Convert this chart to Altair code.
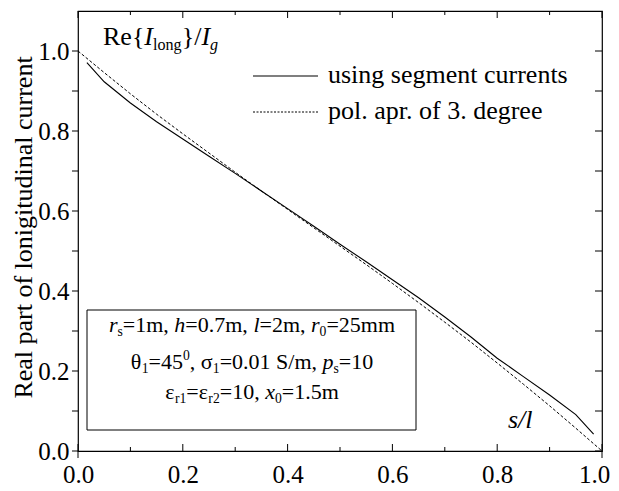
import altair as alt
import pandas as pd

# ---------------- data ----------------
s_seg = [0.017, 0.05, 0.1, 0.15, 0.2, 0.25, 0.3, 0.35, 0.4, 0.45, 0.5,
         0.55, 0.6, 0.65, 0.7, 0.75, 0.8, 0.85, 0.9, 0.95, 0.984]
re_seg = [0.971, 0.923, 0.870, 0.823, 0.780, 0.737, 0.694, 0.650, 0.606, 0.562, 0.517,
          0.473, 0.428, 0.383, 0.335, 0.285, 0.232, 0.186, 0.140, 0.091, 0.042]

s_pol = [0.0, 0.05, 0.1, 0.15, 0.2, 0.25, 0.3, 0.35, 0.4, 0.45, 0.5,
         0.55, 0.6, 0.65, 0.7, 0.75, 0.8, 0.85, 0.9, 0.95, 1.0]
re_pol = [1.0, 0.946, 0.893, 0.842, 0.793, 0.745, 0.697, 0.650, 0.604, 0.558, 0.512,
          0.466, 0.419, 0.371, 0.322, 0.272, 0.220, 0.167, 0.113, 0.057, 0.0]

x_major = [0.0, 0.2, 0.4, 0.6, 0.8, 1.0]
x_minor = [0.1, 0.3, 0.5, 0.7, 0.9]
y_major = [0.0, 0.2, 0.4, 0.6, 0.8, 1.0]
y_minor = [0.1, 0.3, 0.5, 0.7, 0.9]

legend_labels = ["using segment currents", "pol. apr. of 3. degree"]
y_title = "Real part of lonigitudinal current"

FONT = "Liberation Serif"
W, H = 524, 440
YMAX = 1.1
XS = alt.Scale(domain=[0, 1], nice=False, zero=False)
YS = alt.Scale(domain=[0, YMAX], nice=False, zero=False)


def to_s(px):
    return px / W


def to_v(py):
    return YMAX * (1 - py / H)


# ---------------- rich-text helper (Times metrics) ----------------
NW = {' ': .25, '.': .25, ',': .25, '=': .564, '{': .48, '}': .48, '/': .278,
      'R': .667, 'S': .556, 'e': .444, 'm': .778, 'l': .278, 'o': .5, 'n': .5,
      'g': .5, 'r': .333, 'h': .5, 'p': .5, 's': .389, 'x': .5, 'I': .333,
      'θ': .5, 'σ': .55, 'ε': .44}
IW = {'I': .333, 'g': .5, 'r': .389, 'h': .5, 'l': .278, 'p': .5, 'x': .444,
      's': .389}


def tw(t, italic, size):
    tab = IW if italic else NW
    return sum(tab.get(c, NW.get(c, .5)) for c in t) * size


def rich(segs, x0, y0, size, center=False):
    rows = []
    parts = []
    for txt, kind in segs:
        italic = 'i' in kind
        if kind.startswith('sb'):
            sz, dy = size * 0.62, size * 0.2
        elif kind.startswith('sp'):
            sz, dy = size * 0.62, -size * 0.42
        else:
            sz, dy = size, 0
        parts.append((txt, italic, sz, dy))
    total = sum(tw(t, it, sz) for t, it, sz, _ in parts)
    x = x0 - total / 2 if center else x0
    for t, it, sz, dy in parts:
        rows.append({"t": t, "s": to_s(x), "v": to_v(y0 + dy), "sz": sz,
                     "st": "italic" if it else "normal"})
        x += tw(t, it, sz)
    return rows


rows = []
rows += rich([("Re{", "n"), ("I", "i"), ("long", "sb"), ("}/", "n"), ("I", "i"),
              ("g", "sbi")], 25, 34, 26)
rows += rich([("r", "i"), ("s", "sb"), ("=1m, ", "n"), ("h", "i"), ("=0.7m, ", "n"),
              ("l", "i"), ("=2m, ", "n"), ("r", "i"), ("0", "sb"), ("=25mm", "n")],
             174, 321, 22, center=True)
rows += rich([("θ", "n"), ("1", "sb"), ("=45", "n"), ("0", "sp"), (", σ", "n"),
              ("1", "sb"), ("=0.01 S/m, ", "n"), ("p", "i"), ("s", "sb"), ("=10", "n")],
             174, 358, 22, center=True)
rows += rich([("ε", "n"), ("r1", "sb"), ("=ε", "n"), ("r2", "sb"), ("=10, ", "n"),
              ("x", "i"), ("0", "sb"), ("=1.5m", "n")], 174, 388, 22, center=True)
rows += rich([("s/l", "i")], 430, 417, 26)
rows += rich([(legend_labels[0], "n")], 250, 72, 26)
rows += rich([(legend_labels[1], "n")], 250, 108, 26)
txt_df = pd.DataFrame(rows)

# ---------------- layers ----------------
seg_df = pd.DataFrame({"s": s_seg, "v": re_seg})
pol_df = pd.DataFrame({"s": s_pol, "v": re_pol})

xax = alt.Axis(values=x_major, format=".1f", title=None, grid=False, ticks=False,
               domain=False, labelFont=FONT, labelFontSize=25, labelColor="black",
               labelPadding=11, labelFlush=False,
               labelOffset={"condition": {"test": "datum.value >= 1", "value": -8},
                            "value": 0})
yax = alt.Axis(values=y_major, format=".1f", title=y_title, grid=False, ticks=False,
               domain=False, labelFont=FONT, labelFontSize=25, labelColor="black",
               labelPadding=9, labelFlush=False,
               titleFont=FONT, titleFontSize=26, titleFontWeight="normal",
               titleColor="black", titleAngle=270, titleBaseline="alphabetic",
               titleAlign="center", titleX=-47, titleY=216)

main = alt.Chart(seg_df).mark_line(color="black", strokeWidth=1.1).encode(
    x=alt.X("s:Q", scale=XS, axis=xax),
    y=alt.Y("v:Q", scale=YS, axis=yax),
)

pol = alt.Chart(pol_df).mark_line(color="black", strokeWidth=1, strokeDash=[3, 2]).encode(
    x=alt.X("s:Q", scale=XS, axis=xax),
    y=alt.Y("v:Q", scale=YS, axis=yax),
)


def xt(vals, y1, y2):
    df = pd.DataFrame({"s": vals, "v": [to_v(y1)] * len(vals), "v2": [to_v(y2)] * len(vals)})
    return alt.Chart(df).mark_rule(color="black", strokeWidth=1).encode(
        x=alt.X("s:Q", scale=XS, axis=xax), y=alt.Y("v:Q", scale=YS, axis=yax), y2="v2:Q")


def yt(vals, x1, x2):
    df = pd.DataFrame({"v": vals, "s": [to_s(x1)] * len(vals), "s2": [to_s(x2)] * len(vals)})
    return alt.Chart(df).mark_rule(color="black", strokeWidth=1).encode(
        y=alt.Y("v:Q", scale=YS, axis=yax), x=alt.X("s:Q", scale=XS, axis=xax), x2="s2:Q")


ticks = [
    xt(x_major, H, H - 7), xt(x_minor, H, H - 4),
    xt([x_major[0], x_major[-1]], H, H + 7),
    xt(x_major, 0, 7), xt(x_minor, 0, 4),
    yt(y_major + y_minor, -6, 0),
    yt(y_major + y_minor, W - 7, W),
]

box_df = pd.DataFrame({"s": [to_s(9)], "s2": [to_s(338)], "v": [to_v(299)], "v2": [to_v(419)]})
box = alt.Chart(box_df).mark_rect(fill="white", stroke="black", strokeWidth=1).encode(
    x=alt.X("s:Q", scale=XS, axis=xax), x2="s2:Q",
    y=alt.Y("v:Q", scale=YS, axis=yax), y2="v2:Q")

leg_df = pd.DataFrame({"lab": legend_labels, "s": [to_s(175)] * 2, "s2": [to_s(240)] * 2,
                       "v": [to_v(65), to_v(101)]})
leg_solid = alt.Chart(leg_df.iloc[[0]]).mark_rule(color="black", strokeWidth=1.1).encode(
    x=alt.X("s:Q", scale=XS, axis=xax), x2="s2:Q", y=alt.Y("v:Q", scale=YS, axis=yax))
leg_dot = alt.Chart(leg_df.iloc[[1]]).mark_rule(color="black", strokeWidth=1,
                                                strokeDash=[2, 1.5]).encode(
    x=alt.X("s:Q", scale=XS, axis=xax), x2="s2:Q", y=alt.Y("v:Q", scale=YS, axis=yax))


def text_layer(style):
    return alt.Chart(txt_df).transform_filter(
        alt.datum.st == style).mark_text(
        font=FONT, fontStyle=style, color="black", align="left",
        baseline="alphabetic").encode(
        x=alt.X("s:Q", scale=XS, axis=xax),
        y=alt.Y("v:Q", scale=YS, axis=yax),
        text="t:N", size=alt.Size("sz:Q", scale=None, legend=None))


chart = alt.layer(
    main, pol, box, *ticks, leg_solid, leg_dot,
    text_layer("normal"), text_layer("italic"),
).properties(
    width=W, height=H,
    padding={"left": 70, "top": 3, "right": 9, "bottom": 37},
    autosize=alt.AutoSizeParams(type="none"),
    background="white",
).configure(font=FONT).configure_axis(labelFont=FONT, titleFont=FONT
).configure_view(stroke="black", strokeWidth=1.2)

chart.save("out.html", embed_options={"renderer": "svg", "actions": False})
